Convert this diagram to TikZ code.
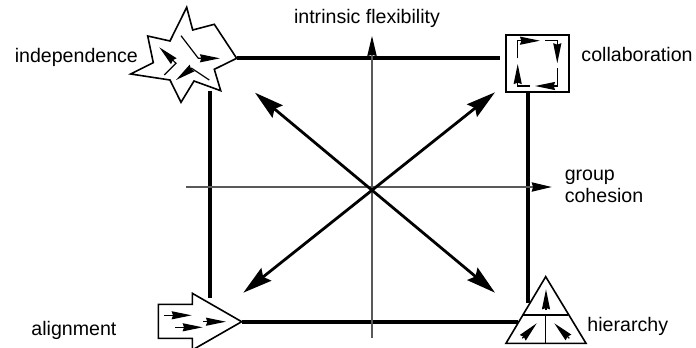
\documentclass[tikz,border=0pt]{standalone}
\usepackage{fontspec}
\setmainfont{Liberation Sans}
\usetikzlibrary{
  arrows.meta,
  positioning
}
\tikzset{
  side line/.style={line width=3pt, draw=black},
  axis line/.style={-{Stealth[length=15pt,width=7pt,inset=1pt,color=black]}, line width=0.8pt, draw=black!65},
  diag arrow/.style={{Stealth[length=22pt,width=12pt,inset=3pt]}-{Stealth[length=22pt,width=12pt,inset=3pt]}, line width=2.1pt, draw=black},
  icon/.style={line width=1.2pt, draw=black, fill=white, line join=miter},
  mini arrow/.style={-{Stealth[length=15pt,width=6pt,inset=1pt]}, line width=0.9pt, draw=black},
  label text/.style={font=\fontsize{14.7}{16.3}\selectfont, inner sep=0pt, align=left},
}

\begin{document}
\begin{tikzpicture}[x=0.75pt, y=-0.75pt]
  \useasboundingbox (0, 0) rectangle (696, 347);

  % Corner points
  \coordinate (starTip) at (236.7, 58.3);
  \coordinate (boxLeft) at (500, 58.3);
  \coordinate (boxBottom) at (528, 91.7);
  \coordinate (triLeft) at (528, 303);
  \coordinate (penTip) at (241.7, 321.7);
  \coordinate (triBase) at (518, 321.7);
  \coordinate (starBottom) at (210, 90.7);
  \coordinate (penTop) at (210, 298);

  % Square sides
  \draw[side line] (starTip) -- (boxLeft);
  \draw[side line] (boxBottom) -- (triLeft);
  \draw[side line] (penTip) -- (triBase);
  \draw[side line] (starBottom) -- (penTop);

  % Axes
  \coordinate (yFoot) at (372, 338);
  \coordinate (yTip) at (372, 36);
  \coordinate (xFoot) at (186, 187);
  \coordinate (xTip) at (551.7, 187);
  \draw[axis line] (yFoot) -- (yTip);
  \draw[axis line] (xFoot) -- (xTip);

  % Diagonals
  \coordinate (diagTL) at (255, 92.7);
  \coordinate (diagTR) at (495, 92.3);
  \coordinate (diagBL) at (243.3, 292.7);
  \coordinate (diagBR) at (495, 292.7);
  \draw[diag arrow] (diagTL) -- (diagBR);
  \draw[diag arrow] (diagTR) -- (diagBL);

  % independence icon
  \draw[icon] (186.7, 7.3) -- (192.7, 30) -- (214.3, 24.3) -- (starTip) -- (214.3, 69.3)
    -- (220.7, 90.7) -- (194, 81) -- (181, 102.3) -- (170, 80) -- (130.7, 74)
    -- (153.3, 62.7) -- (147.7, 36) -- (170, 41) -- cycle;
  \draw[mini arrow] (181, 35.7) -- (198.3, 58.3) -- (220, 58.3);
  \draw[mini arrow] (164.3, 75) -- (176, 63.3) -- (159.3, 47.3);
  \draw[mini arrow] (209.3, 80) -- (191.7, 68.3) -- (176, 80);

  % collaboration icon
  \draw[icon, line width=1.5pt] (506, 35) rectangle (569, 91.7);
  \draw[mini arrow] (517.7, 58.3) -- (517.7, 40.7) -- (540, 40.7);
  \draw[mini arrow] (545, 40.7) -- (557.3, 40.7) -- (557.3, 63.3);
  \draw[mini arrow] (557.3, 68.3) -- (557.3, 86) -- (535, 86);
  \draw[mini arrow] (530, 86) -- (517.7, 86) -- (517.7, 64);

  % alignment icon
  \draw[icon] (158.3, 304.3) -- (192.3, 304.3) -- (192.3, 293.3) -- (penTip)
    -- (192.3, 350) -- (192.3, 338.3) -- (158.3, 338.3) -- cycle;
  \draw[mini arrow] (164, 315.3) -- (191.7, 315.3);
  \draw[mini arrow] (175, 327.3) -- (202.7, 327.3);
  \draw[mini arrow] (203.3, 321.7) -- (226, 321.7);

  % hierarchy icon
  \draw[icon] (545.7, 276.7) -- (586, 343.3) -- (506, 343.3) -- cycle;
  \draw[line width=1.1pt] (523.3, 315) -- (568.3, 315);
  \draw[line width=1.1pt] (545.7, 315) -- (545.7, 343.3);
  \draw[mini arrow] (546, 310) -- (546, 289.3);
  \draw[mini arrow] (522.3, 338.3) -- (536.7, 323.3);
  \draw[mini arrow] (569.3, 338.3) -- (554.3, 323.3);

  % Labels
  \node[label text, anchor=base] (flexLabel) at (367, 23.3) {intrinsic flexibility};
  \node[label text, anchor=base west] (indepLabel) at (14.5, 62.3) {independence};
  \node[label text, anchor=base west] (collabLabel) at (581.2, 61.7) {collaboration};
  \node[label text, anchor=base west] (groupLabel) at (564.5, 202.4) {group\\cohesion};
  \node[label text, anchor=base west] (alignLabel) at (31.2, 335.7) {alignment};
  \node[label text, anchor=base west] (hierLabel) at (587.2, 331) {hierarchy};

\end{tikzpicture}
\end{document}
